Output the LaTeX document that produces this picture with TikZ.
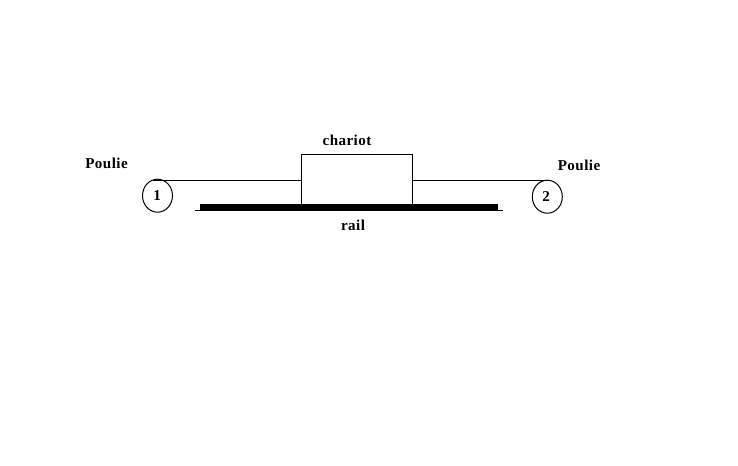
\documentclass[tikz,border=0pt]{standalone}
\usepackage{fontspec}
\usetikzlibrary{shapes.geometric}
\setmainfont[LetterSpace=3]{Liberation Serif}
\begin{document}
\begin{tikzpicture}[x=0.75pt,y=-0.75pt,
  lbl/.style={inner sep=0pt,font=\fontsize{11.3pt}{13pt}\selectfont\bfseries,text=black},
  pulley/.style={ellipse,draw=black,line width=0.75pt,minimum width=22.5pt,minimum height=24.75pt,inner sep=0pt,font=\fontsize{11.3pt}{13pt}\selectfont\bfseries},
  cartbox/.style={rectangle,draw=black,line width=0.75pt,minimum width=83.25pt,minimum height=37.1pt,inner sep=0pt},
  railbar/.style={rectangle,fill=black,draw=none,minimum width=223.5pt,minimum height=5.25pt,inner sep=0pt},
  thin line/.style={draw=black,line width=0.75pt}]
\useasboundingbox (0,0) rectangle (738,466);
\node[railbar] (rail) at (349,207.5) {};
\node[cartbox] (cart) at (357,179.3) {};
\node[pulley] (p1) at (157.5,195.7) {1\kern0.4pt};
\node[pulley] (p2) at (547.3,196.7) {2\kern1.6pt};
\coordinate (r1) at (153,180.5);
\coordinate (r2) at (550,180.5);
\coordinate (c1) at (301.5,180.5);
\coordinate (c2) at (412.5,180.5);
\coordinate (t1) at (195,210.5);
\coordinate (t2) at (503,210.5);
\draw[thin line] (r1) -- (c1);
\draw[thin line] (c2) -- (r2);
\draw[thin line] (t1) -- (t2);
\node[lbl] (chariot) at (347,140) {chariot};
\node[lbl] (railtxt) at (353,225.5) {rail};
\node[lbl] (poulie1) at (106.5,163) {Poulie};
\node[lbl] (poulie2) at (579,165) {Poulie};
\end{tikzpicture}
\end{document}
